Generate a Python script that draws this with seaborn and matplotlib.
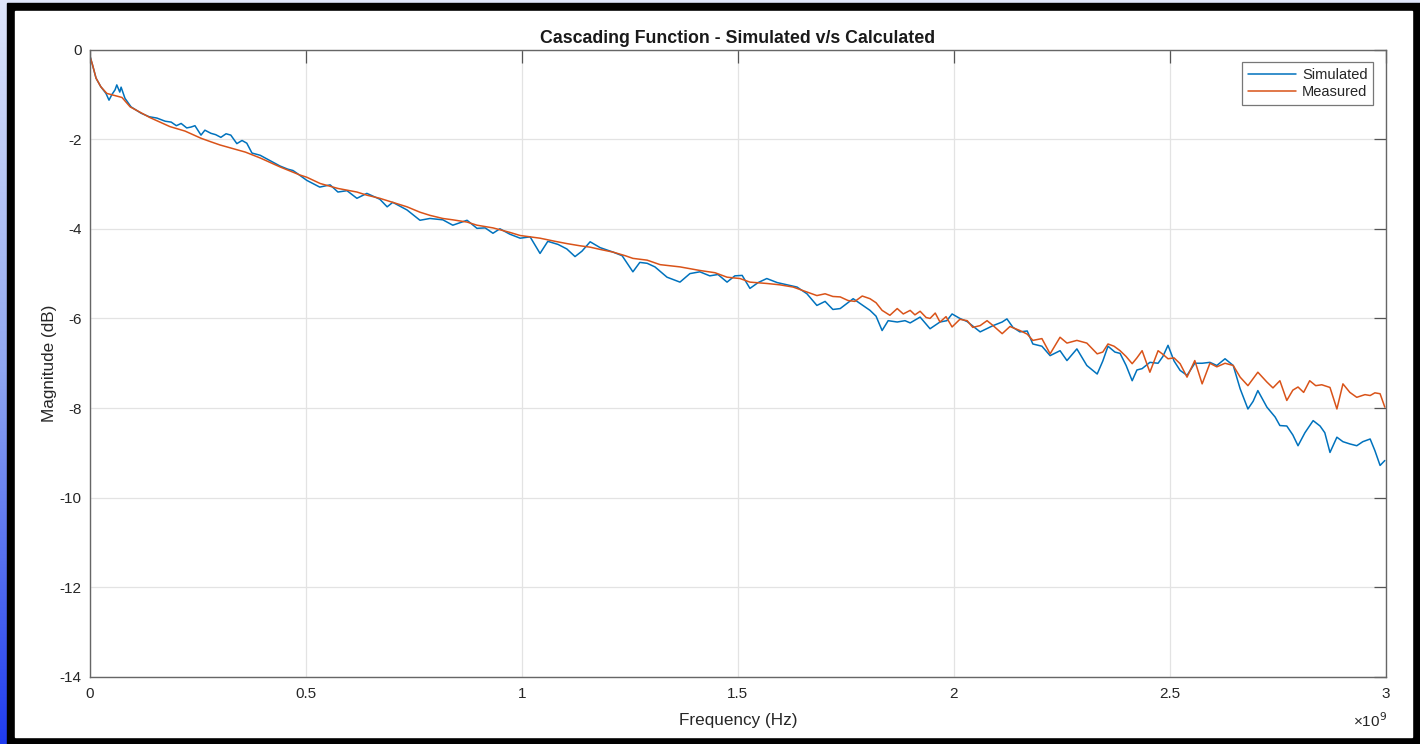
"""Cascading function: simulated vs measured magnitude response."""

import matplotlib.pyplot as plt
import numpy as np
import pandas as pd
import seaborn as sns
from matplotlib.patches import Rectangle
from matplotlib.ticker import FuncFormatter

# values (frequency in GHz, magnitude in dB)
sim_freq_ghz = [
    0.000, 0.006, 0.014, 0.025, 0.037, 0.044, 0.051, 0.058, 0.062, 0.069,
    0.072, 0.081, 0.095, 0.118, 0.137, 0.155, 0.174, 0.188, 0.200, 0.211,
    0.224, 0.234, 0.243, 0.257, 0.266, 0.280, 0.291, 0.303, 0.315, 0.326,
    0.340, 0.352, 0.363, 0.375, 0.394, 0.417, 0.440, 0.458, 0.470, 0.479,
    0.502, 0.532, 0.556, 0.574, 0.595, 0.618, 0.641, 0.671, 0.688, 0.701,
    0.734, 0.764, 0.787, 0.817, 0.840, 0.873, 0.896, 0.915, 0.933,
    0.949, 0.972, 0.996, 1.019, 1.042, 1.060, 1.084, 1.104, 1.123, 1.139,
    1.158, 1.181, 1.211, 1.232, 1.257, 1.273, 1.290, 1.308, 1.336, 1.366,
    1.389, 1.412, 1.435, 1.454, 1.475, 1.493, 1.510, 1.528, 1.547, 1.567,
    1.591, 1.614, 1.637, 1.660, 1.683, 1.702, 1.720, 1.737, 1.767, 1.788,
    1.806, 1.820, 1.834, 1.848, 1.869, 1.887, 1.899, 1.922, 1.945, 1.968,
    1.984, 1.996, 2.014, 2.031, 2.061, 2.091, 2.112, 2.123, 2.137, 2.153,
    2.170, 2.183, 2.204, 2.223, 2.246, 2.262, 2.285, 2.308, 2.332, 2.345,
    2.357, 2.373, 2.385, 2.399, 2.413, 2.424, 2.436, 2.454, 2.473, 2.484,
    2.496, 2.510, 2.524, 2.540, 2.558, 2.575, 2.593, 2.609, 2.628, 2.647,
    2.663, 2.681, 2.693, 2.704, 2.725, 2.744, 2.755, 2.771, 2.785, 2.797,
    2.813, 2.832, 2.848, 2.859, 2.871, 2.887, 2.901, 2.917, 2.933, 2.947,
    2.964, 2.975, 2.987, 2.998,
]
sim_db = [
    -0.15, -0.35, -0.64, -0.83, -0.98, -1.13, -1.00, -0.90, -0.79, -0.95,
    -0.84, -1.09, -1.28, -1.42, -1.50, -1.53, -1.60, -1.62, -1.70, -1.65,
    -1.75, -1.73, -1.70, -1.91, -1.80, -1.87, -1.90, -1.96, -1.88, -1.91,
    -2.10, -2.03, -2.09, -2.31, -2.36, -2.48, -2.60, -2.67, -2.70, -2.76,
    -2.92, -3.07, -3.02, -3.18, -3.15, -3.32, -3.21, -3.34, -3.51, -3.41,
    -3.58, -3.81, -3.77, -3.80, -3.92, -3.81, -3.99, -3.98, -4.10,
    -4.00, -4.12, -4.21, -4.18, -4.55, -4.28, -4.35, -4.45, -4.62, -4.50,
    -4.29, -4.42, -4.52, -4.60, -4.96, -4.75, -4.77, -4.85, -5.08, -5.19,
    -5.00, -4.96, -5.05, -5.02, -5.19, -5.05, -5.04, -5.33, -5.20, -5.11,
    -5.20, -5.25, -5.30, -5.45, -5.71, -5.62, -5.80, -5.78, -5.56, -5.70,
    -5.82, -5.95, -6.27, -6.05, -6.08, -6.05, -6.10, -5.97, -6.23, -6.08,
    -6.05, -5.90, -6.00, -6.07, -6.30, -6.16, -6.08, -6.01, -6.20, -6.30,
    -6.28, -6.57, -6.62, -6.83, -6.72, -6.94, -6.68, -7.05, -7.24, -6.95,
    -6.62, -6.75, -6.78, -7.05, -7.39, -7.15, -7.12, -6.98, -7.00, -6.85,
    -6.60, -6.95, -7.16, -7.27, -7.00, -7.00, -6.98, -7.05, -6.90, -7.05,
    -7.57, -8.02, -7.85, -7.61, -7.98, -8.20, -8.39, -8.40, -8.60, -8.84,
    -8.55, -8.28, -8.40, -8.55, -8.99, -8.65, -8.75, -8.80, -8.84, -8.75,
    -8.69, -8.95, -9.28, -9.17,
]

meas_freq_ghz = [
    0.000, 0.006, 0.014, 0.025, 0.039, 0.058, 0.074, 0.093, 0.116, 0.139,
    0.185, 0.220, 0.257, 0.280, 0.301, 0.327, 0.360, 0.394, 0.440, 0.486,
    0.502, 0.533, 0.574, 0.618, 0.641, 0.671, 0.734, 0.764, 0.787, 0.817,
    0.840, 0.873, 0.896, 0.933, 0.972, 0.996,
    1.042, 1.077, 1.104, 1.135, 1.158, 1.181, 1.211, 1.239, 1.257, 1.290,
    1.320, 1.366, 1.412, 1.447, 1.475, 1.505, 1.528, 1.567, 1.597, 1.628,
    1.660, 1.683, 1.702, 1.720, 1.737, 1.755, 1.771, 1.788, 1.806, 1.820,
    1.834, 1.852, 1.869, 1.883, 1.899, 1.910, 1.922, 1.936, 1.945, 1.957,
    1.968, 1.982, 1.996, 2.014, 2.031, 2.044, 2.061, 2.077, 2.091, 2.112,
    2.130, 2.153, 2.170, 2.183, 2.204, 2.223, 2.246, 2.262, 2.285, 2.308,
    2.332, 2.345, 2.357, 2.371, 2.385, 2.399, 2.413, 2.424, 2.436, 2.454,
    2.473, 2.484, 2.496, 2.510, 2.524, 2.540, 2.558, 2.575, 2.593, 2.609,
    2.628, 2.647, 2.663, 2.681, 2.704, 2.725, 2.739, 2.755, 2.771, 2.785,
    2.797, 2.810, 2.824, 2.838, 2.852, 2.871, 2.887, 2.901, 2.917, 2.933,
    2.952, 2.964, 2.975, 2.987, 2.998,
]
meas_db = [
    -0.15, -0.35, -0.64, -0.83, -0.98, -1.03, -1.07, -1.28, -1.40, -1.52,
    -1.72, -1.82, -1.98, -2.06, -2.13, -2.20, -2.29, -2.42, -2.62, -2.80,
    -2.85, -2.99, -3.10, -3.18, -3.25, -3.32, -3.51, -3.63, -3.70, -3.77,
    -3.80, -3.85, -3.92, -3.98, -4.08, -4.15,
    -4.21, -4.28, -4.33, -4.38, -4.41, -4.46, -4.52, -4.60, -4.66, -4.70,
    -4.80, -4.85, -4.93, -4.98, -5.08, -5.11, -5.19, -5.22, -5.25, -5.30,
    -5.41, -5.49, -5.45, -5.51, -5.52, -5.60, -5.62, -5.50, -5.56, -5.65,
    -5.82, -5.93, -5.78, -5.90, -5.82, -5.92, -5.84, -5.98, -6.00, -5.88,
    -6.08, -5.96, -6.19, -6.02, -6.05, -6.20, -6.16, -6.05, -6.16, -6.34,
    -6.18, -6.27, -6.35, -6.49, -6.45, -6.79, -6.42, -6.55, -6.49, -6.55,
    -6.79, -6.75, -6.57, -6.62, -6.72, -6.85, -7.01, -6.88, -6.72, -7.20,
    -6.72, -6.80, -6.90, -6.88, -7.01, -7.31, -6.94, -7.46, -7.00, -7.08,
    -7.00, -7.05, -7.31, -7.50, -7.20, -7.42, -7.55, -7.39, -7.83, -7.60,
    -7.53, -7.65, -7.39, -7.50, -7.48, -7.54, -8.02, -7.46, -7.65, -7.76,
    -7.70, -7.72, -7.66, -7.68, -7.98,
]

W, H = 1420, 744

sns.set_style("white")
plt.rcParams["font.family"] = ["Liberation Sans", "DejaVu Sans"]
plt.rcParams["axes.unicode_minus"] = False

fig = plt.figure(figsize=(W / 100, H / 100), dpi=100)

# screenshot surround: blue gradient, black frame, white canvas
bg = fig.add_axes([0, 0, 1, 1], zorder=-5)
grad = np.linspace(0, 1, 256).reshape(-1, 1)
cmap = sns.blend_palette(["#dfe6fb", "#8fa6f2", "#1f3cf0"], as_cmap=True)
bg.imshow(grad, cmap=cmap, aspect="auto", extent=[0, W, H, 0])
bg.add_patch(Rectangle((7, 3), W - 7, H - 3, color="black"))
bg.add_patch(Rectangle((15, 11), 1397, 726, color="white"))
bg.set_xlim(0, W)
bg.set_ylim(H, 0)
bg.axis("off")

ax = fig.add_axes([90 / W, 1 - 677 / H, (1385.7 - 90) / W, (677 - 49.5) / H])

sim = pd.DataFrame({"f": np.array(sim_freq_ghz) * 1e9, "db": sim_db})
meas = pd.DataFrame({"f": np.array(meas_freq_ghz) * 1e9, "db": meas_db})
sns.lineplot(data=sim, x="f", y="db", ax=ax, color="#0072BD", lw=1.1,
             label="Simulated")
sns.lineplot(data=meas, x="f", y="db", ax=ax, color="#D95319", lw=1.1,
             label="Measured")

ax.set_xlim(0, 3e9)
ax.set_ylim(-14, 0)
ax.set_xticks(np.arange(0, 3.01e9, 0.5e9))
ax.set_yticks(np.arange(-14, 0.1, 2))
ax.xaxis.set_major_formatter(FuncFormatter(lambda v, p: f"{v / 1e9:g}"))
ax.yaxis.set_major_formatter(FuncFormatter(lambda v, p: f"{v:g}"))

ax.grid(True, color="#e3e3e3", lw=0.9)
ax.tick_params(direction="in", length=9, width=0.9, top=True, right=True,
               labelsize=11, colors="#555555", labelcolor="#262626")
ax.tick_params(axis="x", pad=7.5)
ax.tick_params(axis="y", pad=6)
for s in ax.spines.values():
    s.set_color("#666666")
    s.set_linewidth(1.0)

ax.set_title("Cascading Function - Simulated v/s Calculated",
             fontsize=12.8, fontweight="bold", color="#1a1a1a", pad=5)
ax.set_xlabel("Frequency (Hz)", fontsize=12.3, color="#262626", labelpad=8)
ax.set_ylabel("Magnitude (dB)", fontsize=12.3, color="#262626", labelpad=2)
fig.text(1387 / W, 1 - 727 / H, "×10$^{9}$", ha="right", va="baseline",
         fontsize=11, color="#262626")

leg = ax.legend(loc="upper right", fontsize=10.5, frameon=True, fancybox=False,
                edgecolor="#555555", handlelength=3.3, borderaxespad=0.85,
                labelspacing=0.25, handletextpad=0.4, borderpad=0.4)
leg.get_frame().set_linewidth(0.9)

fig.savefig("out.png", dpi=100)
